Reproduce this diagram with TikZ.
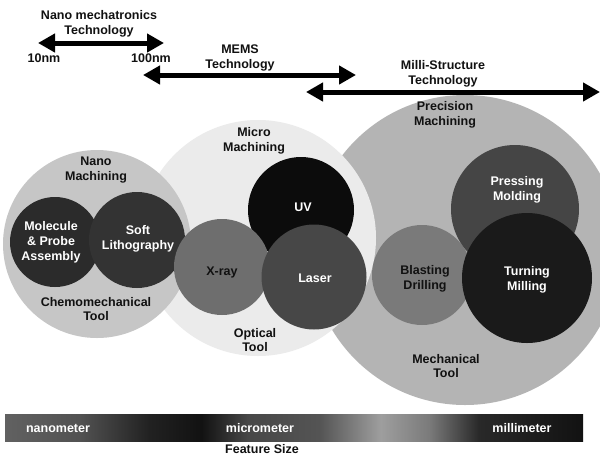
\documentclass[tikz,border=0pt]{standalone}
\usepackage{fontspec}
\setmainfont{Liberation Sans}
\usetikzlibrary{arrows.meta}
\definecolor{cprec}{HTML}{B4B4B4}
\definecolor{cmicro}{HTML}{EBEBEB}
\definecolor{cnano}{HTML}{C6C6C6}
\definecolor{cmol}{HTML}{2B2B2B}
\definecolor{csoft}{HTML}{333333}
\definecolor{cuv}{HTML}{0C0C0C}
\definecolor{cxray}{HTML}{6E6E6E}
\definecolor{claser}{HTML}{474747}
\definecolor{cblast}{HTML}{7A7A7A}
\definecolor{cpress}{HTML}{454545}
\definecolor{cturn}{HTML}{1A1A1A}
\definecolor{ctext}{HTML}{111111}
\pgfdeclarehorizontalshading{featurebar}{100bp}{%
 color(0bp)=(black!62);
 color(25bp)=(black!62);
 color(31.5bp)=(black!68);
 color(37.5bp)=(black!87);
 color(42bp)=(black!93);
 color(46bp)=(black!72);
 color(52.2bp)=(black!67);
 color(57.5bp)=(black!38);
 color(61.7bp)=(black!52);
 color(66bp)=(black!84);
 color(75bp)=(black!93);
 color(100bp)=(black!93)}
\tikzset{
 zone/.style={circle, inner sep=0pt, draw=none},
 lbl/.style={align=center, text=ctext, inner sep=0pt,
   font=\bfseries\fontsize{12.5}{14.8}\selectfont},
 wlbl/.style={lbl, text=white},
 dbl/.style={line width=5pt, {Triangle[length=17pt,width=18pt]}-{Triangle[length=17pt,width=18pt]}, black}
}
\begin{document}
\begin{tikzpicture}[x=1pt,y=-1pt]
\useasboundingbox (0,0) rectangle (600,456);
\fill[white] (0,0) rectangle (600,456);

% big zones
\node[zone, fill=cprec, minimum size=310pt] (prec) at (465,250) {};
\node[zone, fill=cmicro, minimum size=236pt] (micro) at (258,238) {};
\node[zone, fill=cnano, minimum size=188pt] (nano) at (97,244) {};

% inner circles
\node[zone, fill=cmol, minimum size=90pt] (mol) at (55,242) {};
\node[zone, fill=csoft, minimum size=96pt] (soft) at (137,240) {};
\node[zone, fill=cuv, minimum size=106pt] (uv) at (301,210) {};
\node[zone, fill=cxray, minimum size=96pt] (xray) at (222,267) {};
\node[zone, fill=claser, minimum size=105pt] (laser) at (314,277) {};
\node[zone, fill=cblast, minimum size=100pt] (blast) at (422,275) {};
\node[zone, fill=cpress, minimum size=128pt] (press) at (515,209) {};
\node[zone, fill=cturn, minimum size=130pt] (turn) at (527,278) {};

% labels in circles
\node[lbl] (tnano) at (96,170) {Nano\\Machining};
\node[lbl] (tmicro) at (254,141) {Micro\\Machining};
\node[lbl] (tprec) at (445,115) {Precision\\Machining};
\node[wlbl] (tmol) at (51,242) {Molecule\\\& Probe\\Assembly};
\node[wlbl] (tsoft) at (138,239) {Soft\\Lithography};
\node[wlbl] (tuv) at (303,207) {UV};
\node[lbl] (txray) at (222,272) {X-ray};
\node[wlbl] (tlaser) at (315,278) {Laser};
\node[lbl] (tblast) at (425,279) {Blasting\\Drilling};
\node[wlbl] (tpress) at (517,190) {Pressing\\Molding};
\node[wlbl] (tturn) at (527,280) {Turning\\Milling};
\node[lbl] (tchemo) at (96,309) {Chemomechanical\\Tool};
\node[lbl] (topt) at (255,340) {Optical\\Tool};
\node[lbl] (tmech) at (446,366) {Mechanical\\Tool};

% technology ranges
\node[lbl] (tnanotech) at (99,24) {Nano mechatronics\\Technology};
\coordinate (n1) at (38,43);
\coordinate (n2) at (164,43);
\draw[dbl] (n1) -- (n2);
\node[lbl] (t10) at (44,58) {10nm};
\node[lbl] (t100) at (151,58) {100nm};

\node[lbl] (tmems) at (240,58) {MEMS\\Technology};
\coordinate (m1) at (143,75);
\coordinate (m2) at (356,75);
\draw[dbl] (m1) -- (m2);

\node[lbl] (tmilli) at (443,74) {Milli-Structure\\Technology};
\coordinate (s1) at (306,92);
\coordinate (s2) at (600,92);
\draw[dbl] (s1) -- (s2);

% feature size bar
\shade[shading=featurebar] (5,414) rectangle (583,441);
\node[wlbl] (tnm) at (58,428) {nanometer};
\node[wlbl] (tum) at (260,428) {micrometer};
\node[wlbl] (tmm) at (522,428) {millimeter};
\node[lbl] (tfs) at (262,449) {Feature Size};
\end{tikzpicture}
\end{document}
